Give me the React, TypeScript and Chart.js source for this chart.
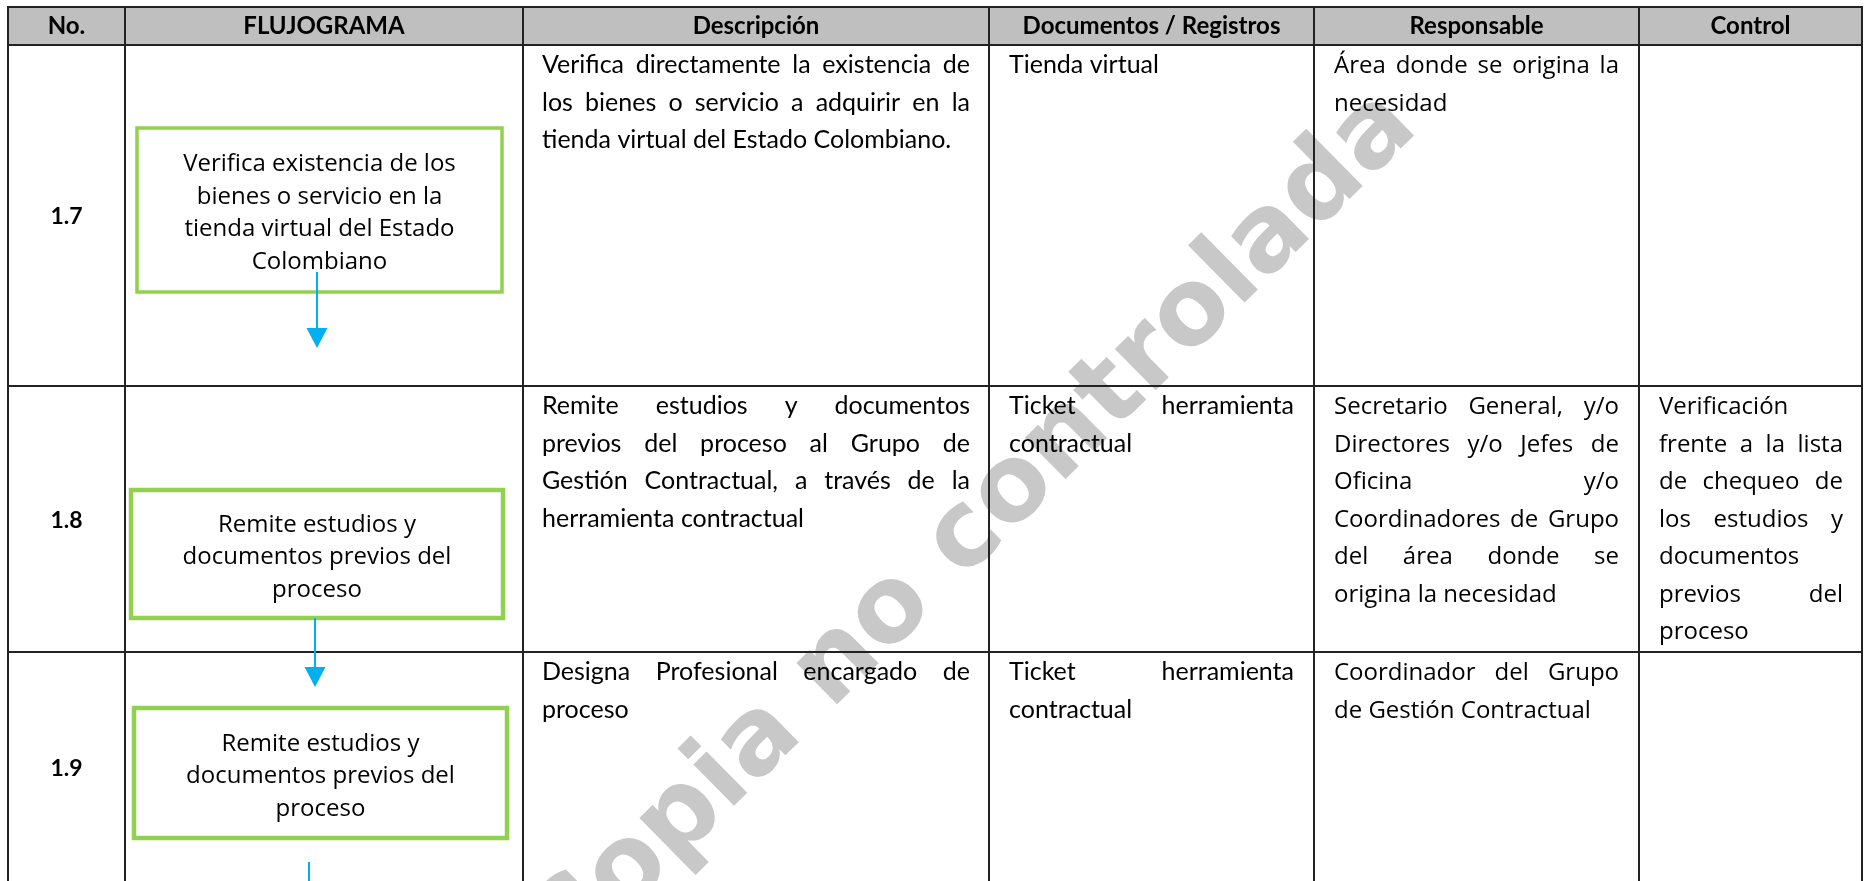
import React, { useEffect, useRef } from "react";
import { Chart, registerables } from "chart.js";

Chart.register(...registerables);

// ---------- content ----------
const headers = ["No.", "FLUJOGRAMA", "Descripción", "Documentos / Registros", "Responsable", "Control"];
const stepNumbers = ["1.7", "1.8", "1.9"];
const flowSteps = [
  ["Verifica existencia de los", "bienes o servicio en la", "tienda virtual del Estado", "Colombiano"],
  ["Remite estudios y", "documentos previos del", "proceso"],
  ["Remite estudios y", "documentos previos del", "proceso"],
];
const descriptions = [
  ["Verifica directamente la existencia de", "los bienes o servicio a adquirir en la", "tienda virtual del Estado Colombiano."],
  ["Remite estudios y documentos", "previos del proceso al Grupo de", "Gestión Contractual, a través de la", "herramienta contractual"],
  ["Designa Profesional encargado de", "proceso"],
];
const documents = [
  ["Tienda virtual"],
  ["Ticket herramienta", "contractual"],
  ["Ticket herramienta", "contractual"],
];
const responsables = [
  ["Área donde se origina la", "necesidad"],
  ["Secretario General, y/o", "Directores y/o Jefes de", "Oficina y/o", "Coordinadores de Grupo", "del área donde se", "origina la necesidad"],
  ["Coordinador del Grupo", "de Gestión Contractual"],
];
const controls = [
  [],
  ["Verificación", "frente a la lista", "de chequeo de", "los estudios y", "documentos", "previos del", "proceso"],
  [],
];
const watermarkText = "Copia no controlada";

// ---------- layout (page units, mapped through the chart scales) ----------
const PAGE_W = 1864;
const PAGE_H = 881;
const colEdges = [8, 125, 523, 989, 1314, 1639, 1862];
const rowEdges = [7, 45, 386, 652, 900];
const boxRects = [
  { x0: 137, x1: 502, y0: 128, y1: 292, lw: 3.5 },
  { x0: 131, x1: 503, y0: 490, y1: 618, lw: 4.5 },
  { x0: 134, x1: 507, y0: 708, y1: 838, lw: 4.5 },
];
const arrows = [
  { x: 317, y0: 272, y1: 348, head: true },
  { x: 315, y0: 618, y1: 687, head: true },
  { x: 309, y0: 862, y1: 900, head: false },
];
const watermarkAnchor = { x: 965, y: 538, angle: 44.6, size: 106 };

const LINE_COLOR = "#222222";
const HEADER_FILL = "#bfbfbf";
const BOX_COLOR = "#92d050";
const ARROW_COLOR = "#00b0f0";
const TEXT_COLOR = "#000000";
const WATERMARK_COLOR = "rgb(200,200,200)";

function drawJustified(ctx: CanvasRenderingContext2D, lines: string[], left: number, right: number, base: number, lh: number) {
  ctx.textAlign = "left";
  lines.forEach((line, i) => {
    const y = base + i * lh;
    const words = line.split(" ").filter(Boolean);
    const last = i === lines.length - 1;
    if (last || words.length < 2) {
      ctx.fillText(line, left, y);
      return;
    }
    const ws = words.map((w) => ctx.measureText(w).width);
    const total = ws.reduce((a, b) => a + b, 0);
    const gap = (right - left - total) / (words.length - 1);
    let x = left;
    words.forEach((w, k) => {
      ctx.fillText(w, x, y);
      x += ws[k] + gap;
    });
  });
}

const tablePlugin = {
  id: "flowTable",
  afterDraw(chart: any) {
    const ctx: CanvasRenderingContext2D = chart.ctx;
    const xs = chart.scales.x;
    const ys = chart.scales.y;
    const X = (v: number) => xs.getPixelForValue(v);
    const Y = (v: number) => ys.getPixelForValue(v);
    ctx.save();

    // background
    ctx.fillStyle = "#ffffff";
    ctx.fillRect(X(0), Y(0), X(PAGE_W) - X(0), Y(PAGE_H) - Y(0));

    // header fill
    ctx.fillStyle = HEADER_FILL;
    ctx.fillRect(X(colEdges[0]), Y(rowEdges[0]), X(colEdges[colEdges.length - 1]) - X(colEdges[0]), Y(rowEdges[1]) - Y(rowEdges[0]));

    // watermark (behind lines and text)
    ctx.save();
    const wm = watermarkAnchor;
    ctx.font = `bold ${wm.size}px "DejaVu Sans"`;
    ctx.fillStyle = WATERMARK_COLOR;
    ctx.translate(X(wm.x), Y(wm.y));
    ctx.rotate((-wm.angle * Math.PI) / 180);
    const pre = ctx.measureText("Copia no ").width;
    const cw = ctx.measureText("c").width;
    ctx.textAlign = "left";
    ctx.textBaseline = "alphabetic";
    ctx.fillText(watermarkText, -pre - cw / 2, 0.27 * wm.size);
    ctx.restore();

    // grid lines
    ctx.strokeStyle = LINE_COLOR;
    ctx.lineWidth = 2;
    ctx.beginPath();
    rowEdges.forEach((r) => {
      ctx.moveTo(X(colEdges[0]) - 1, Y(r));
      ctx.lineTo(X(colEdges[colEdges.length - 1]) + 1, Y(r));
    });
    colEdges.forEach((c) => {
      ctx.moveTo(X(c), Y(rowEdges[0]));
      ctx.lineTo(X(c), Y(rowEdges[rowEdges.length - 1]));
    });
    ctx.stroke();

    // header texts
    ctx.fillStyle = TEXT_COLOR;
    ctx.font = `bold 24px Lato`;
    ctx.textAlign = "center";
    ctx.textBaseline = "alphabetic";
    headers.forEach((h, i) => {
      const cx = (X(colEdges[i]) + X(colEdges[i + 1])) / 2;
      ctx.fillText(h, cx, Y(33.5));
    });

    // step numbers
    ctx.font = `bold 23px Lato`;
    stepNumbers.forEach((n, i) => {
      const cx = (X(colEdges[0]) + X(colEdges[1])) / 2;
      const top = rowEdges[i + 1];
      const bottom = Math.min(rowEdges[i + 2], 882);
      const cy = (Y(top) + Y(bottom)) / 2;
      ctx.fillText(n, cx, cy + 8.5);
    });

    // body cells
    const LH = 37.5;
    const padL = 20;
    const padR = 19;
    stepNumbers.forEach((_, i) => {
      const base = Y(rowEdges[i + 1] + 28);
      ctx.font = `25px Lato`;
      drawJustified(ctx, descriptions[i], X(colEdges[2]) + padL - 1, X(colEdges[3]) - padR, base, LH);
      drawJustified(ctx, documents[i], X(colEdges[3]) + padL, X(colEdges[4]) - padR - 1, base, LH);
      ctx.font = `24px "Open Sans"`;
      drawJustified(ctx, responsables[i], X(colEdges[4]) + padL, X(colEdges[5]) - padR - 1, base, LH);
      drawJustified(ctx, controls[i], X(colEdges[5]) + padL, X(colEdges[6]) - padR, base, LH);
    });

    // flow boxes
    ctx.strokeStyle = BOX_COLOR;
    boxRects.forEach((b) => {
      ctx.lineWidth = b.lw;
      ctx.strokeRect(X(b.x0), Y(b.y0), X(b.x1) - X(b.x0), Y(b.y1) - Y(b.y0));
    });
    ctx.fillStyle = TEXT_COLOR;
    ctx.font = `24px "Open Sans"`;
    ctx.textAlign = "center";
    const BLH = 32.5;
    flowSteps.forEach((lines, i) => {
      const b = boxRects[i];
      const cx = (X(b.x0) + X(b.x1)) / 2;
      const cy = (Y(b.y0) + Y(b.y1)) / 2;
      lines.forEach((ln, k) => {
        const c = cy - ((lines.length - 1) / 2) * BLH + k * BLH;
        ctx.fillText(ln, cx, c + 10);
      });
    });

    // arrows
    ctx.strokeStyle = ARROW_COLOR;
    ctx.fillStyle = ARROW_COLOR;
    ctx.lineWidth = 2;
    arrows.forEach((a) => {
      const headH = 20;
      const headW = 21;
      ctx.beginPath();
      ctx.moveTo(X(a.x), Y(a.y0));
      ctx.lineTo(X(a.x), Y(a.head ? a.y1 - headH + 2 : a.y1));
      ctx.stroke();
      if (a.head) {
        ctx.beginPath();
        ctx.moveTo(X(a.x), Y(a.y1));
        ctx.lineTo(X(a.x) - headW / 2, Y(a.y1 - headH));
        ctx.lineTo(X(a.x) + headW / 2, Y(a.y1 - headH));
        ctx.closePath();
        ctx.fill();
      }
    });

    ctx.restore();
  },
};

export default function App() {
  const canvasRef = useRef<HTMLCanvasElement | null>(null);

  useEffect(() => {
    document.body.style.margin = "0";
    document.body.style.overflow = "hidden";
    const canvas = canvasRef.current;
    if (!canvas) return;
    const chart = new Chart(canvas, {
      type: "scatter",
      data: { datasets: [{ data: [], pointRadius: 0 }] },
      options: {
        animation: false,
        responsive: true,
        maintainAspectRatio: false,
        layout: { padding: 0 },
        events: [],
        plugins: { legend: { display: false }, tooltip: { enabled: false }, title: { display: false } },
        scales: {
          x: { type: "linear", min: 0, max: PAGE_W, display: false },
          y: { type: "linear", min: 0, max: PAGE_H, reverse: true, display: false },
        },
      },
      plugins: [tablePlugin],
    });
    return () => chart.destroy();
  }, []);

  return (
    <div style={{ position: "fixed", left: 0, top: 0, width: PAGE_W, height: PAGE_H, background: "#fff" }}>
      <canvas ref={canvasRef} />
    </div>
  );
}
